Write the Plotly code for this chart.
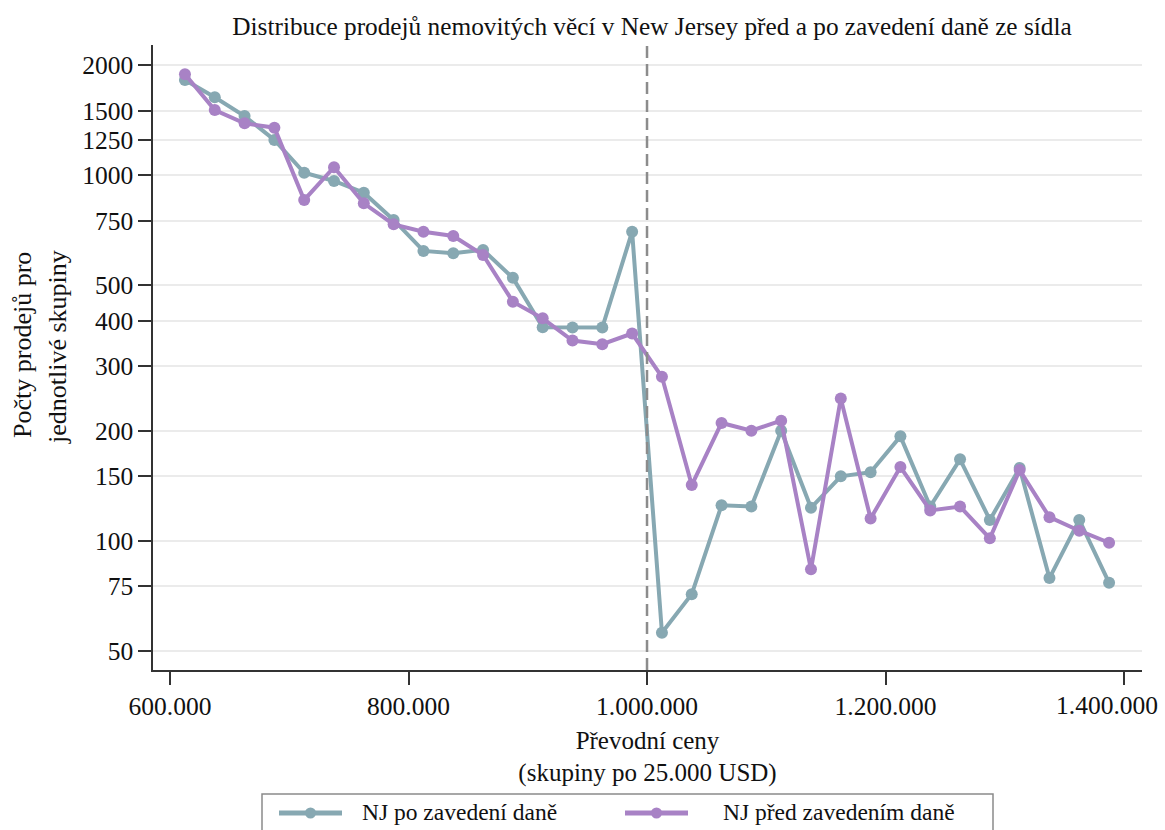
import plotly.graph_objects as go

# bin midpoints (25.000 USD bins)
bins = [612500 + 25000 * i for i in range(32)]

after_tax = [1823, 1635, 1453, 1249, 1016, 965, 896, 755, 621, 612, 625, 524,
             384, 383, 383, 701, 56, 71.4, 125, 124, 200, 123, 150, 154,
             193, 124, 167, 114, 158, 79, 114, 76.7]
before_tax = [1890, 1509, 1388, 1350, 856, 1052, 838, 734, 701, 682, 605, 451,
              406, 353, 345, 369, 281, 142, 210, 200, 213, 83.5, 245, 115,
              159, 121, 124, 101.5, 156, 116, 106.5, 98.7]

series_names = ["NJ po zavedení daně", "NJ před zavedením daně"]
y_tickvals = [50, 75, 100, 150, 200, 300, 400, 500, 750, 1000, 1250, 1500, 2000]
y_ticktext = ["50", "75", "100", "150", "200", "300", "400", "500", "750",
              "1000", "1250", "1500", "2000"]
x_tickvals = [600000, 800000, 1000000, 1200000, 1400000]
x_ticktext = ["600.000", "800.000", "1.000.000", "1.200.000", "1.400.000"]
threshold = 1000000

TEAL = "#87a8b2"
PURPLE = "#a882c5"
FONT = "Liberation Serif"
TXT = "#111111"
TICK_SIZE = 25.5

# plot area in pixels (for converting legend/title positions to paper coords)
L, R, T, B = 153, 1142, 45, 670
W, H = R - L, B - T


def px(x):
    return (x - L) / W


def py(y):
    return (B - y) / H


fig = go.Figure()
fig.add_trace(go.Scatter(
    x=bins, y=after_tax, mode="lines+markers", name=series_names[0],
    line=dict(color=TEAL, width=4), marker=dict(color=TEAL, size=12)))
fig.add_trace(go.Scatter(
    x=bins, y=before_tax, mode="lines+markers", name=series_names[1],
    line=dict(color=PURPLE, width=4), marker=dict(color=PURPLE, size=12)))

fig.add_shape(type="line", x0=threshold, x1=threshold, y0=0, y1=1,
              xref="x", yref="paper",
              line=dict(color="#8c8c8c", width=2.5, dash="12px,6px"), layer="above")

# the last tick label sits shifted left (as in the reference) -> drawn as annotation
shown_ticktext = x_ticktext[:-1] + [""]

fig.update_layout(
    width=1165, height=830,
    margin=dict(l=L, r=1165 - R, t=T, b=830 - B, autoexpand=False),
    paper_bgcolor="white", plot_bgcolor="white",
    font=dict(family=FONT, size=24, color=TXT),
    title=dict(text="Distribuce prodejů nemovitých věcí v New Jersey před a po zavedení daně ze sídla",
               x=652 / 1165, xanchor="center", y=1 - 26 / 830, yanchor="middle",
               font=dict(family=FONT, size=25.3, color=TXT)),
    showlegend=False,
    xaxis=dict(range=[585700, 1415100], tickvals=x_tickvals, ticktext=shown_ticktext,
               showgrid=False, zeroline=False, showline=True, linecolor="#333", linewidth=1.5,
               ticks="outside", ticklen=13, tickcolor="#333", tickwidth=1.5,
               automargin=False,
               tickfont=dict(family=FONT, size=TICK_SIZE, color=TXT),
               title=dict(text="Převodní ceny<br>(skupiny po 25.000 USD)", standoff=11,
                          font=dict(family=FONT, size=25, color=TXT))),
    yaxis=dict(type="log", range=[1.6461, 3.3566], tickvals=y_tickvals, ticktext=y_ticktext,
               showgrid=True, gridcolor="#ebebeb", gridwidth=2, zeroline=False,
               showline=True, linecolor="#333", linewidth=1.5,
               ticks="outside", ticklen=13, tickcolor="#333", tickwidth=1.5,
               automargin=False,
               tickfont=dict(family=FONT, size=TICK_SIZE, color=TXT),
               title=dict(text="")),
)

fig.add_annotation(text=x_ticktext[-1], x=x_tickvals[-1], xref="x", y=py(705), yref="paper",
                   xanchor="center", yanchor="middle", xshift=-17, showarrow=False,
                   font=dict(family=FONT, size=TICK_SIZE, color=TXT))

# y-axis title (two rotated lines)
fig.add_annotation(text="Počty prodejů pro", x=px(22), y=py(345), xref="paper", yref="paper",
                   xanchor="center", yanchor="middle", showarrow=False, textangle=-90,
                   font=dict(family=FONT, size=26, color=TXT))
fig.add_annotation(text="jednotlivé skupiny", x=px(57), y=py(347), xref="paper", yref="paper",
                   xanchor="center", yanchor="middle", showarrow=False, textangle=-90,
                   font=dict(family=FONT, size=26, color=TXT))

# legend box drawn below the plot
fig.add_shape(type="rect", xref="paper", yref="paper",
              x0=px(262), x1=px(993), y0=py(794), y1=py(900),
              line=dict(color="#8a8a8a", width=1.5), fillcolor="white")
legend_items = [(series_names[0], TEAL, 279, 342, 360),
                (series_names[1], PURPLE, 625, 688, 721)]
for name, col, xs, xe, xt in legend_items:
    ly = 813
    fig.add_shape(type="line", xref="paper", yref="paper",
                  x0=px(xs), x1=px(xe), y0=py(ly), y1=py(ly),
                  line=dict(color=col, width=5))
    cx = (xs + xe) / 2
    r = 5.5
    fig.add_shape(type="circle", xref="paper", yref="paper",
                  x0=px(cx - r), x1=px(cx + r), y0=py(ly + r), y1=py(ly - r),
                  line=dict(color=col, width=0), fillcolor=col)
    fig.add_annotation(text=name, x=px(xt), y=py(812), xref="paper", yref="paper",
                       xanchor="left", yanchor="middle", showarrow=False,
                       font=dict(family=FONT, size=23.5, color=TXT))

fig.write_html("out.html")
